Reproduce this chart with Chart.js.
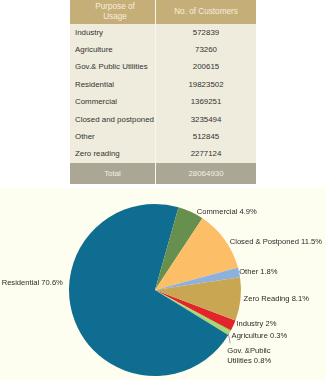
<!DOCTYPE html>
<html>
<head>
<meta charset="utf-8">
<script src="https://cdn.jsdelivr.net/npm/chart.js@4"></script>
<style>
  html,body{margin:0;padding:0;background:#ffffff;width:326px;height:380px;overflow:hidden;font-family:"Liberation Sans",Arial,sans-serif;}
  #tbl{position:absolute;left:70px;top:0;width:186px;height:184px;}
  .cell{position:absolute;display:flex;align-items:center;box-sizing:border-box;font-size:7.9px;color:#333;line-height:10px;white-space:nowrap;}
  .hd{background:#c5ae78;color:#f5eedb;justify-content:center;text-align:center;font-size:8.2px;}
  .bd{background:#efecdd;}
  .tt{background:#aba794;color:#f2efe4;justify-content:center;}
  .c1{left:0;width:85px;padding-left:5px;}
  .c2{left:86px;width:100px;justify-content:center;}
  #pieWrap{position:absolute;left:0;top:188px;width:326px;height:192px;background:#fefef0;}
</style>
</head>
<body>
<div id="tbl"></div>
<div id="pieWrap"><canvas id="c" width="326" height="192"></canvas></div>
<script>
// ---- data ----
const headers = ["Purpose of\nUsage", "No. of Customers"];
const categories = ["Industry", "Agriculture", "Gov.& Public Utilities", "Residential", "Commercial", "Closed and postponed", "Other", "Zero reading"];
const customers = [572839, 73260, 200615, 19823502, 1369251, 3235494, 512845, 2277124];
const totalLabel = "Total";
const totalValue = 28064930;
const pieLabels = [["Industry 2%"], ["Agriculture 0.3%"], ["Gov. &Pubilc", "Utilities 0.8%"], ["Residential 70.6%"], ["Commercial 4.9%"], ["Closed & Postponed 11.5%"], ["Other 1.8%"], ["Zero Reading 8.1%"]];
const sliceColors = ["#e3252b", "#8ccc58", "#a8d66e", "#0f6d92", "#67904f", "#fdbe68", "#8db1df", "#c9a651"];

// ---- table ----
const tbl = document.getElementById('tbl');
function cell(cls, top, h, html){
  const d = document.createElement('div');
  d.className = 'cell ' + cls;
  d.style.top = top + 'px'; d.style.height = h + 'px';
  d.innerHTML = html; tbl.appendChild(d);
  return d;
}
cell('hd c1', 0, 24, headers[0].replace('\n','<br>'));
cell('hd c2', 0, 24, headers[1]);
const rowH = 17.4;
categories.forEach((c,i)=>{
  const top = 24 + i*rowH;
  cell('bd c1', top, rowH, c);
  cell('bd c2', top, rowH, String(customers[i]));
});
const tTop = 24 + categories.length*rowH;
const tc = cell('tt c1', tTop, 184 - tTop, totalLabel);
tc.style.justifyContent = 'center';
tc.style.paddingLeft = '0';
cell('tt c2', tTop, 184 - tTop, String(totalValue));
const dv = document.createElement('div');
dv.style.cssText = 'position:absolute;left:85px;top:0;width:1px;height:184px;background:#f8f6ee;';
tbl.appendChild(dv);

// ---- pie ----
const labelTweaks = [
  {dx:3, dy:-2, align:'left'},
  {dx:1, dy:5, align:'left'},
  {dx:-2, dy:18, align:'left', leader:true},
  {dx:-12, dy:-38, align:'right'},
  {dx:6, dy:0, align:'left'},
  {dx:5, dy:2, align:'left'},
  {dx:0, dy:-1, align:'left'},
  {dx:3, dy:0, align:'left'}
];
const pieLabelPlugin = {
  id:'pieLabels',
  afterDatasetsDraw(chart){
    const ctx = chart.ctx;
    const meta = chart.getDatasetMeta(0);
    ctx.save();
    ctx.font = '7.6px "Liberation Sans", Arial, sans-serif';
    ctx.fillStyle = '#2a2a2a';
    ctx.textBaseline = 'middle';
    meta.data.forEach((arc,i)=>{
      const p = arc.getProps(['startAngle','endAngle','outerRadius','x','y'], true);
      const a = (p.startAngle + p.endAngle)/2;
      const mx = p.x + Math.cos(a)*p.outerRadius;
      const my = p.y + Math.sin(a)*p.outerRadius;
      const t = labelTweaks[i];
      const lx = mx + t.dx, ly = my + t.dy;
      if (t.leader){
        ctx.strokeStyle = '#888'; ctx.lineWidth = 0.8;
        ctx.beginPath(); ctx.moveTo(mx-1, my); ctx.lineTo(lx+3, ly-8); ctx.stroke();
      }
      ctx.textAlign = t.align;
      pieLabels[i].forEach((line,k)=>ctx.fillText(line, lx, ly + k*10));
    });
    ctx.restore();
  }
};

new Chart(document.getElementById('c'), {
  type:'pie',
  data:{labels:categories, datasets:[{data:customers, backgroundColor:sliceColors, borderWidth:0}]},
  options:{
    responsive:false, animation:false,
    rotation:110.7,
    layout:{padding:{left:69, right:85, top:16, bottom:4}},
    plugins:{legend:{display:false}, tooltip:{enabled:false}}
  },
  plugins:[pieLabelPlugin]
});
</script>
</body>
</html>
